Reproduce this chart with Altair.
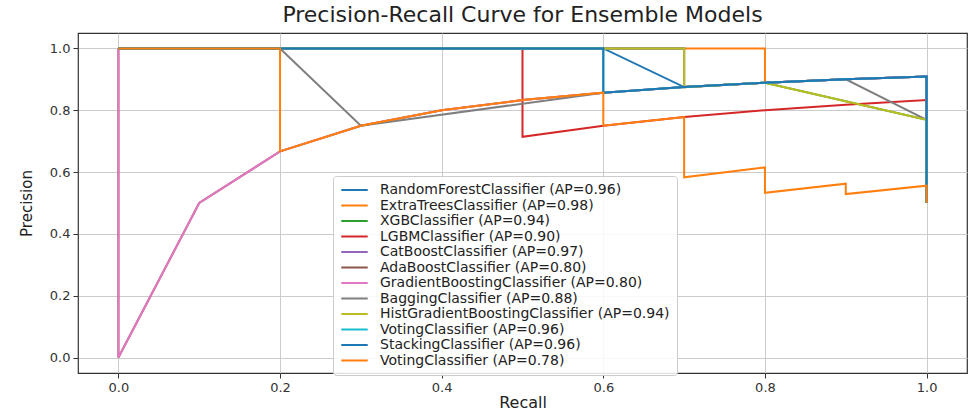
import altair as alt
import pandas as pd

# Legend labels, in plotting order (later curves are drawn on top)
labels = [
    "RandomForestClassifier (AP=0.96)",
    "ExtraTreesClassifier (AP=0.98)",
    "XGBClassifier (AP=0.94)",
    "LGBMClassifier (AP=0.90)",
    "CatBoostClassifier (AP=0.97)",
    "AdaBoostClassifier (AP=0.80)",
    "GradientBoostingClassifier (AP=0.80)",
    "BaggingClassifier (AP=0.88)",
    "HistGradientBoostingClassifier (AP=0.94)",
    "VotingClassifier (AP=0.96)",
    "StackingClassifier (AP=0.96)",
    "VotingClassifier (AP=0.78)",
]

# matplotlib tab10 cycle
colors = [
    "#1f77b4", "#ff7f0e", "#2ca02c", "#d62728", "#9467bd", "#8c564b",
    "#e377c2", "#7f7f7f", "#bcbd22", "#17becf", "#1f77b4", "#ff7f0e",
]

# Precision-recall points of each model (recall descending, as returned by
# precision_recall_curve)
rf_recall = [1.0, 1.0, 0.9, 0.8, 0.7, 0.6, 0.5, 0.4, 0.3, 0.2, 0.1, 0.0]
rf_precision = [0.5, 0.909, 0.9, 0.889, 0.875, 1.0, 1.0, 1.0, 1.0, 1.0, 1.0, 1.0]

et_recall = [1.0, 1.0, 0.9, 0.8, 0.8, 0.7, 0.6, 0.5, 0.4, 0.3, 0.2, 0.1, 0.0]
et_precision = [0.5, 0.909, 0.9, 0.889, 1.0, 1.0, 1.0, 1.0, 1.0, 1.0, 1.0, 1.0, 1.0]

xgb_recall = [1.0, 1.0, 0.8, 0.7, 0.7, 0.6, 0.5, 0.4, 0.3, 0.2, 0.1, 0.0]
xgb_precision = [0.5, 0.769, 0.889, 0.875, 1.0, 1.0, 1.0, 1.0, 1.0, 1.0, 1.0, 1.0]

lgbm_recall = [1.0, 1.0, 0.9, 0.8, 0.7, 0.6, 0.5, 0.5, 0.4, 0.3, 0.2, 0.1, 0.0]
lgbm_precision = [0.5, 0.833, 0.818, 0.8, 0.778, 0.75, 0.714, 1.0, 1.0, 1.0, 1.0, 1.0, 1.0]

cat_recall = [1.0, 1.0, 0.9, 0.8, 0.7, 0.7, 0.6, 0.5, 0.4, 0.3, 0.2, 0.1, 0.0]
cat_precision = [0.5, 0.909, 0.9, 0.889, 0.875, 1.0, 1.0, 1.0, 1.0, 1.0, 1.0, 1.0, 1.0]

ada_recall = [1.0, 1.0, 0.9, 0.8, 0.7, 0.6, 0.5, 0.4, 0.3, 0.2, 0.1, 0.0, 0.0]
ada_precision = [0.5, 0.909, 0.9, 0.889, 0.875, 0.857, 0.833, 0.8, 0.75, 0.667, 0.5, 0.0, 1.0]

gb_recall = [1.0, 1.0, 0.9, 0.8, 0.7, 0.6, 0.5, 0.4, 0.3, 0.2, 0.1, 0.0, 0.0]
gb_precision = [0.5, 0.909, 0.9, 0.889, 0.875, 0.857, 0.833, 0.8, 0.75, 0.667, 0.5, 0.0, 1.0]

bag_recall = [1.0, 1.0, 0.9, 0.8, 0.7, 0.6, 0.3, 0.2, 0.1, 0.0]
bag_precision = [0.5, 0.769, 0.9, 0.889, 0.875, 0.857, 0.75, 1.0, 1.0, 1.0]

hgb_recall = [1.0, 1.0, 0.8, 0.7, 0.7, 0.6, 0.5, 0.4, 0.3, 0.2, 0.1, 0.0]
hgb_precision = [0.5, 0.769, 0.889, 0.875, 1.0, 1.0, 1.0, 1.0, 1.0, 1.0, 1.0, 1.0]

vote_recall = [1.0, 1.0, 0.9, 0.8, 0.7, 0.6, 0.6, 0.5, 0.4, 0.3, 0.2, 0.1, 0.0]
vote_precision = [0.5, 0.909, 0.9, 0.889, 0.875, 0.857, 1.0, 1.0, 1.0, 1.0, 1.0, 1.0, 1.0]

stack_recall = [1.0, 1.0, 0.9, 0.8, 0.7, 0.6, 0.6, 0.5, 0.4, 0.3, 0.2, 0.1, 0.0]
stack_precision = [0.5, 0.909, 0.9, 0.889, 0.875, 0.857, 1.0, 1.0, 1.0, 1.0, 1.0, 1.0, 1.0]

vote2_recall = [1.0, 1.0, 0.9, 0.9, 0.8, 0.8, 0.7, 0.7, 0.6, 0.6, 0.5, 0.4,
                0.3, 0.2, 0.2, 0.1, 0.0]
vote2_precision = [0.5, 0.556, 0.529, 0.5625, 0.533, 0.615, 0.583, 0.778, 0.75,
                   0.857, 0.833, 0.8, 0.75, 0.667, 1.0, 1.0, 1.0]

curves = [
    (rf_recall, rf_precision),
    (et_recall, et_precision),
    (xgb_recall, xgb_precision),
    (lgbm_recall, lgbm_precision),
    (cat_recall, cat_precision),
    (ada_recall, ada_precision),
    (gb_recall, gb_precision),
    (bag_recall, bag_precision),
    (hgb_recall, hgb_precision),
    (vote_recall, vote_precision),
    (stack_recall, stack_precision),
    (vote2_recall, vote2_precision),
]

rows = []
for label, (rec, prec) in zip(labels, curves):
    for i, (r, p) in enumerate(zip(rec, prec)):
        rows.append({"model": label, "step": i, "recall": r, "precision": p})
df = pd.DataFrame(rows)

ticks = [0.0, 0.2, 0.4, 0.6, 0.8, 1.0]
FONT = "DejaVu Sans"

color_scale = alt.Scale(domain=labels, range=colors)
x_enc = alt.X(
    "recall:Q",
    scale=alt.Scale(domain=[-0.05, 1.05], nice=False, zero=False),
    axis=alt.Axis(title="Recall", values=ticks, format=".1f"),
)
y_enc = alt.Y(
    "precision:Q",
    scale=alt.Scale(domain=[-0.05, 1.05], nice=False, zero=False),
    axis=alt.Axis(title="Precision", values=ticks, format=".1f"),
)

layers = []
for i, label in enumerate(labels):
    layer = (
        alt.Chart(df)
        .transform_filter(alt.datum.model == label)
        .mark_line(strokeWidth=2, clip=True)
        .encode(
            x=x_enc,
            y=y_enc,
            order="step:Q",
            color=alt.Color(
                "model:N",
                scale=color_scale,
                legend=alt.Legend(
                    title=None,
                    orient="none",
                    legendX=255,
                    legendY=143,
                    symbolType="stroke",
                    symbolSize=700,
                    symbolStrokeWidth=2,
                    clipHeight=14,
                    labelFontSize=14,
                    labelFont=FONT,
                    labelColor="#222222",
                    labelOffset=11,
                    rowPadding=1.5,
                    padding=7,
                    strokeColor="#cccccc",
                    fillColor="rgba(255,255,255,0.85)",
                    cornerRadius=3,
                    labelLimit=400,
                ),
            ),
        )
    )
    layers.append(layer)

chart = (
    alt.layer(*layers)
    .properties(
        width=889,
        height=340,
        title=alt.TitleParams(
            "Precision-Recall Curve for Ensemble Models",
            fontSize=22,
            font=FONT,
            fontWeight="normal",
            color="#222222",
            anchor="middle",
            offset=6,
        ),
        autosize=alt.AutoSizeParams(type="none"),
        padding={"left": 78, "top": 33, "right": 1, "bottom": 37},
    )
    .configure_view(stroke="#333333", strokeWidth=1.2)
    .configure_axis(
        grid=True,
        gridColor="#cccccc",
        gridWidth=1,
        domain=False,
        tickColor="#333333",
        tickSize=5,
        labelFont=FONT,
        labelFontSize=13,
        labelColor="#333333",
        labelPadding=3,
        titleFont=FONT,
        titleFontWeight="normal",
        titleColor="#222222",
    )
    .configure_axisX(titleFontSize=16, titlePadding=0)
    .configure_axisY(titleFontSize=15, titlePadding=15)
)

chart.save("out.html", embed_options={"renderer": "svg", "actions": False})
